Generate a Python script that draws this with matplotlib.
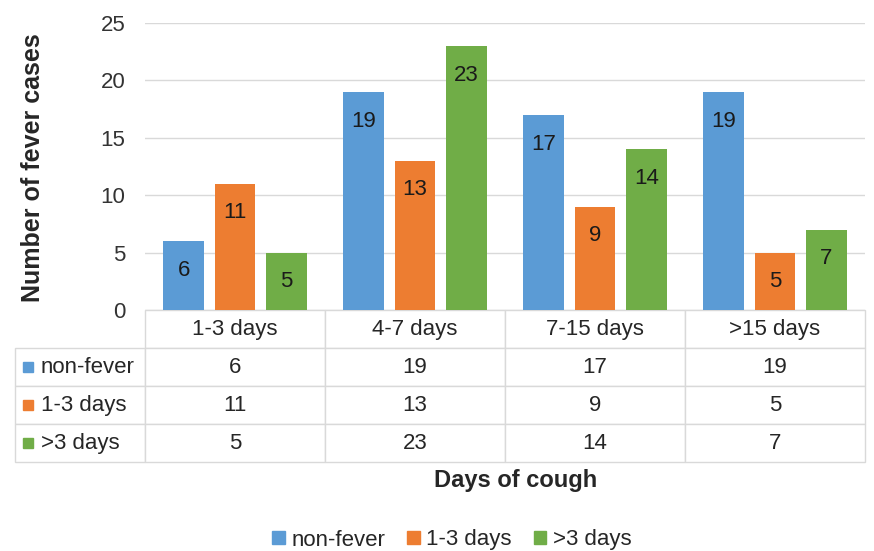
import matplotlib
matplotlib.use('Agg')
import matplotlib.pyplot as plt
import numpy as np
from matplotlib.patches import Patch, Rectangle

categories = ['1-3 days', '4-7 days', '7-15 days', '>15 days']
series_names = ['non-fever', '1-3 days', '>3 days']
non_fever = [6, 19, 17, 19]
fever_1_3 = [11, 13, 9, 5]
fever_gt3 = [5, 23, 14, 7]
y_ticks = [0, 5, 10, 15, 20, 25]

COLORS = ['#5B9BD5', '#ED7D31', '#70AD47']
GRID = '#d9d9d9'
TXT = '#262626'
FS = 16

plt.rcParams['font.family'] = ['Liberation Sans', 'DejaVu Sans']

fig = plt.figure(figsize=(8.74, 5.51), dpi=100)
ax = fig.add_axes([145 / 874, 1 - 310 / 551, 720 / 874, 287 / 551])

series = [non_fever, fever_1_3, fever_gt3]
x = np.arange(len(categories))
width = 0.225
offsets = [-0.285, 0, 0.285]
for vals, off, color in zip(series, offsets, COLORS):
    bars = ax.bar(x + off, vals, width, color=color, zorder=3)
    for b, v in zip(bars, vals):
        ax.annotate(str(v), (b.get_x() + b.get_width() / 2, v),
                    xytext=(0, -21), textcoords='offset points',
                    ha='center', va='center', fontsize=FS, color='#1a1a1a', zorder=4)

ax.set_xlim(-0.5, len(categories) - 0.5)
ax.set_ylim(0, 25)
ax.set_yticks(y_ticks)
ax.set_yticklabels([str(t) for t in y_ticks], fontsize=FS, color='#333333')
ax.tick_params(axis='y', length=0, pad=14)
ax.set_xticks([])
for s in ax.spines.values():
    s.set_visible(False)
ax.yaxis.grid(True, color=GRID, linewidth=1, zorder=0)
ax.set_axisbelow(True)

fig.text(33 / 874, 1 - 168 / 551, 'Number of fever cases', rotation=90,
         ha='center', va='center', fontsize=18, fontweight='bold', color=TXT)

# data table under the bars (first column holds the series names)
cell_text = [[n] + [str(v) for v in vals]
             for n, vals in zip(series_names, series)]
tbl = ax.table(cellText=cell_text,
               colLabels=[''] + categories,
               cellLoc='center',
               colWidths=[130 / 850] + [180 / 850] * 4,
               bbox=[-130 / 720, -152 / 287, 850 / 720, 152 / 287])
tbl.auto_set_font_size(False)
tbl.set_fontsize(FS)
for (r, c), cell in tbl.get_celld().items():
    cell.set_edgecolor(GRID)
    cell.set_linewidth(1)
    cell.get_text().set_color(TXT)
    if c == 0:
        cell.get_text().set_horizontalalignment('left')
        cell.PAD = 0.2
        if r == 0:
            cell.visible_edges = ''

row_h = 152 / 287 / 4
for i, color in enumerate(COLORS):
    yc = -row_h * (i + 1.5)
    ax.add_patch(Rectangle((-122 / 720, yc - 5 / 287), 10 / 720, 10 / 287,
                           transform=ax.transAxes, clip_on=False,
                           color=color))

fig.text(516 / 874, 1 - 480 / 551, 'Days of cough', ha='center', va='center',
         fontsize=17, fontweight='bold', color=TXT)

handles = [Patch(color=c, label=n) for c, n in zip(COLORS, series_names)]
fig.legend(handles=handles, loc='center', bbox_to_anchor=(452 / 874, 1 - 540 / 551),
           ncol=3, frameon=False, fontsize=FS, handlelength=0.55, handleheight=0.55,
           handletextpad=0.3, columnspacing=1.0, labelcolor=TXT)

fig.savefig('out.png', dpi=100)
